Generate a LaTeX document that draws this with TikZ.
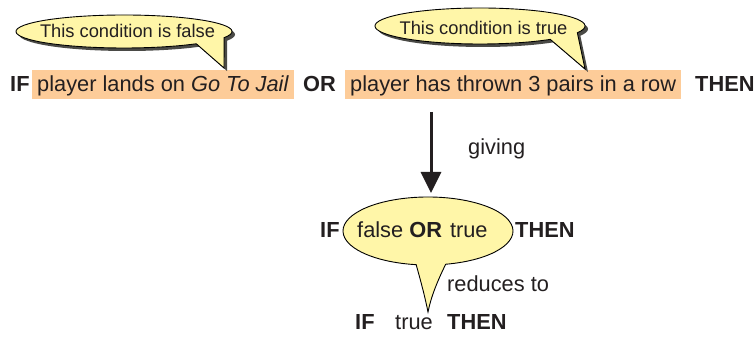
\documentclass[tikz,border=0pt]{standalone}
\usepackage{fontspec}
\setmainfont{Liberation Sans}
\usetikzlibrary{arrows.meta}
\definecolor{hl}{HTML}{FDCC99}
\definecolor{bub}{HTML}{FFF6A8}
\definecolor{shd}{HTML}{4A4A46}
\definecolor{ink}{HTML}{231F20}
\begin{document}
\begin{tikzpicture}[x=1pt,y=1pt,
  txt/.style={font=\fontsize{21.8}{26}\selectfont, text=ink, inner sep=0pt, anchor=base west},
  btxt/.style={txt, font=\fontsize{21.8}{26}\selectfont\bfseries},
  ctxt/.style={font=\fontsize{18.3}{22}\selectfont, text=ink, inner sep=0pt, anchor=base},
  hlbox/.style={txt, fill=hl, inner xsep=5pt, inner ysep=4pt, text height=18pt, text depth=3pt},
  bubble/.style={fill=bub, draw=black, line width=0.9pt},
  shadowfill/.style={fill=shd},
  arr/.style={-{Triangle[length=21pt,width=20pt]}, line width=3pt, draw=ink}]
\useasboundingbox (0,0) rectangle (755,337);

% main line
\node[btxt] (if1) at (10,245) {IF};
\node[hlbox] (c1) at (32,245) {player lands on \textit{Go To Jail}};
\node[btxt] (or1) at (303,245) {OR};
\node[hlbox] (c2) at (345,245) {player has thrown 3 pairs in a row};
\node[btxt] (then1) at (695,245) {THEN};

% callout 1 with shadow
\path[shadowfill] (127,302.5) ++(-22:108pt and 16.5pt) arc[start angle=-22, end angle=312, x radius=108pt, y radius=16.5pt] -- (227,266) -- cycle;
\path[bubble] (124,305.5) ++(-22:108pt and 16.5pt) arc[start angle=-22, end angle=312, x radius=108pt, y radius=16.5pt] -- (224,269) -- cycle;
\node[ctxt] (t1) at (127.5,299) {This condition is false};

% callout 2 with shadow
\path[shadowfill] (483,308) ++(-22:105pt and 18pt) arc[start angle=-22, end angle=312, x radius=105pt, y radius=18pt] -- (588,265) -- cycle;
\path[bubble] (480,311) ++(-22:105pt and 18pt) arc[start angle=-22, end angle=312, x radius=105pt, y radius=18pt] -- (585,268) -- cycle;
\node[ctxt] (t2) at (483.5,302) {This condition is true};

% arrow
\coordinate (astart) at (431,225);
\coordinate (aend) at (431,144);
\draw[arr] (astart) -- (aend);
\node[txt] (giving) at (468,182) {giving};

% bottom callout
\path[bubble] (428,106) ++(-78:85pt and 34pt) arc[start angle=-78, end angle=262, x radius=85pt, y radius=34pt]
  .. controls (421,55) and (425,40) .. (428,25)
  .. controls (431,40) and (437,55) .. (445.67,72.74) -- cycle;
\node[btxt] (if2) at (320,99) {IF};
\node[txt] (mid) at (357,99) {false \textbf{OR}\hspace{8pt}true};
\node[btxt] (then2) at (515,99) {THEN};
\node[txt] (red) at (447,45) {reduces to};
\node[btxt] (if3) at (355,7) {IF};
\node[txt] (true3) at (395,7) {true};
\node[btxt] (then3) at (447,7) {THEN};
\end{tikzpicture}
\end{document}
